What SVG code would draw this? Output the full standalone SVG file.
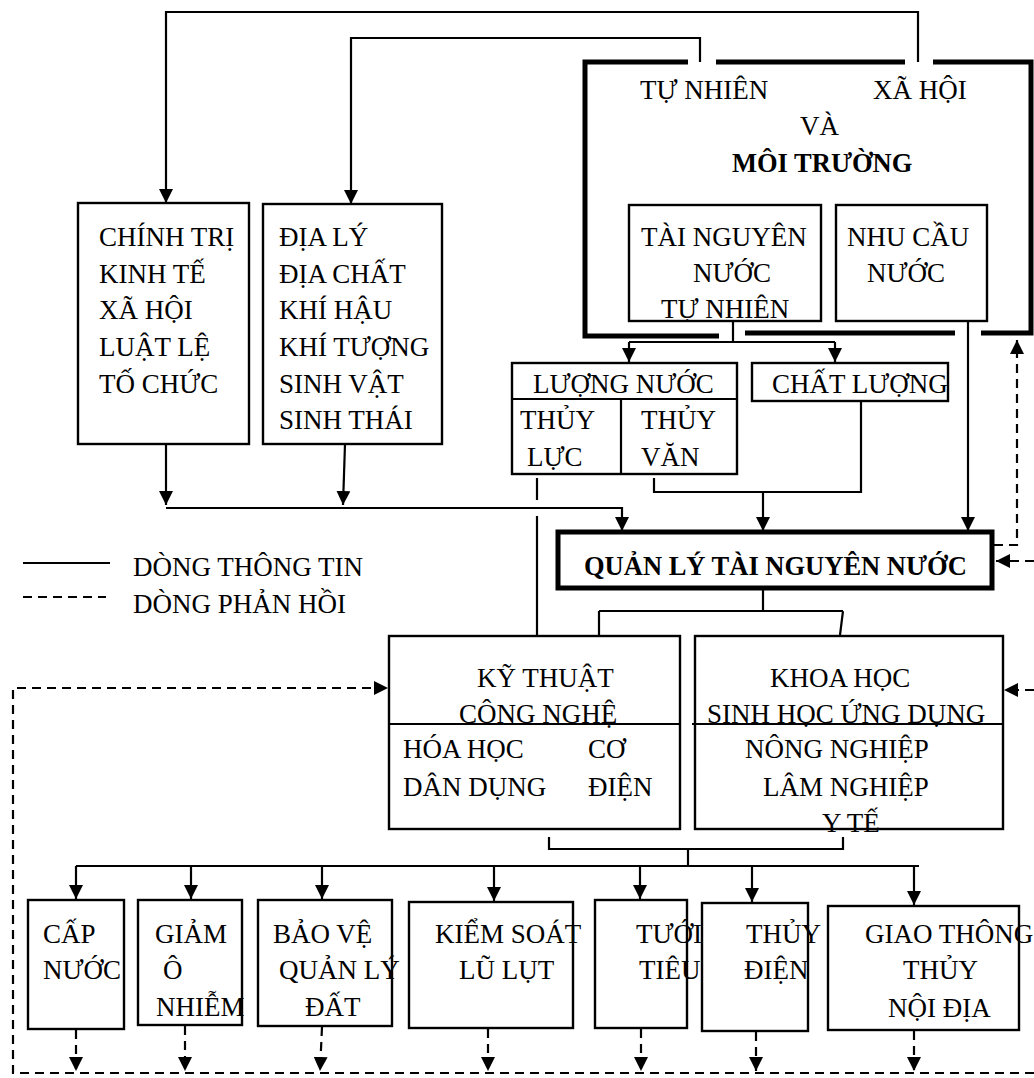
<svg xmlns="http://www.w3.org/2000/svg" width="1034" height="1078" viewBox="0 0 1034 1078">
<style>
text{font-family:"Liberation Serif","Times New Roman",serif;font-size:27px;fill:#000}
.b{font-weight:bold;font-size:26.5px}
.box{fill:#fff;stroke:#000;stroke-width:2.4}
.ln{fill:none;stroke:#000;stroke-width:2.2}
.thick{fill:none;stroke:#000;stroke-width:5}
.dash{fill:none;stroke:#000;stroke-width:2.2;stroke-dasharray:9 6}
</style>
<defs>
<marker id="ah" viewBox="0 0 10 10" refX="10" refY="5" markerWidth="14" markerHeight="14" markerUnits="userSpaceOnUse" orient="auto">
<path d="M0,0 L10,5 L0,10 z" fill="#000"/>
</marker>
</defs>
<rect width="1034" height="1078" fill="#fff"/>

<g id="moi-truong">
<path class="thick" d="M688,62 H585 V336 H719"/>
<path class="thick" d="M716,62 H905"/>
<path class="thick" d="M933,62 H1031 V333 H981"/>
<path class="thick" d="M745,333 H955"/>
<text x="640" y="99">TỰ NHIÊN</text>
<text x="873" y="99">XÃ HỘI</text>
<text x="800" y="135">VÀ</text>
<text class="b" x="732" y="172">MÔI TRƯỜNG</text>
</g>
<g id="tai-nguyen-nuoc-tu-nhien">
<rect class="box" x="629" y="205" width="192" height="116"/>
<text x="641" y="246">TÀI NGUYÊN</text>
<text x="693" y="282">NƯỚC</text>
<text x="661" y="318">TỰ NHIÊN</text>
</g>
<g id="nhu-cau-nuoc">
<rect class="box" x="836" y="205" width="151" height="116"/>
<text x="847" y="246">NHU CẦU</text>
<text x="867" y="282">NƯỚC</text>
</g>

<g id="chinh-tri">
<rect class="box" x="78" y="203" width="171" height="241"/>
<text x="99" y="246">CHÍNH TRỊ</text>
<text x="99" y="283">KINH TẾ</text>
<text x="99" y="319">XÃ HỘI</text>
<text x="99" y="356">LUẬT LỆ</text>
<text x="99" y="393">TỐ CHỨC</text>
</g>
<g id="dia-ly">
<rect class="box" x="263" y="204" width="179" height="240"/>
<text x="279" y="246">ĐỊA LÝ</text>
<text x="279" y="283">ĐỊA CHẤT</text>
<text x="279" y="319">KHÍ HẬU</text>
<text x="279" y="356">KHÍ TƯỢNG</text>
<text x="279" y="393">SINH VẬT</text>
<text x="279" y="429">SINH THÁI</text>
</g>

<g id="luong-nuoc">
<rect class="box" x="512" y="363" width="225" height="111"/>
<path class="ln" d="M512,399 H737 M621,399 V474"/>
<text x="533" y="393">LƯỢNG NƯỚC</text>
<text x="520" y="429">THỦY</text>
<text x="527" y="466">LỰC</text>
<text x="641" y="429">THỦY</text>
<text x="641" y="466">VĂN</text>
</g>
<g id="chat-luong">
<rect class="box" x="752" y="363" width="196" height="38"/>
<text x="772" y="393">CHẤT LƯỢNG</text>
</g>

<g id="quan-ly">
<rect x="558" y="532" width="434" height="56" fill="#fff" stroke="#000" stroke-width="5"/>
<text class="b" x="584" y="575">QUẢN LÝ TÀI NGUYÊN NƯỚC</text>
</g>

<g id="legend">
<path class="ln" d="M23,563 H110"/>
<text x="133" y="576">DÒNG THÔNG TIN</text>
<path class="dash" d="M23,597 H106"/>
<text x="133" y="613">DÒNG PHẢN HỒI</text>
</g>

<g id="ky-thuat">
<rect class="box" x="389" y="636" width="291" height="193"/>
<path class="ln" d="M389,724 H680"/>
<text x="477" y="687">KỸ THUẬT</text>
<text x="459" y="723">CÔNG NGHỆ</text>
<text x="403" y="758">HÓA HỌC</text>
<text x="588" y="758">CƠ</text>
<text x="403" y="796">DÂN DỤNG</text>
<text x="588" y="796">ĐIỆN</text>
</g>
<g id="khoa-hoc">
<rect class="box" x="695" y="636" width="308" height="193"/>
<path class="ln" d="M692,724 H1003"/>
<text x="770" y="687">KHOA HỌC</text>
<text x="707" y="723">SINH HỌC ỨNG DỤNG</text>
<text x="745" y="758">NÔNG NGHIỆP</text>
<text x="763" y="796">LÂM NGHIỆP</text>
<text x="822" y="832">Y TẾ</text>
</g>

<g id="cap-nuoc">
<rect class="box" x="28" y="900" width="96" height="129"/>
<text x="43" y="943">CẤP</text>
<text x="43" y="979">NƯỚC</text>
</g>
<g id="giam-o-nhiem">
<rect class="box" x="138" y="900" width="104" height="125"/>
<text x="155" y="943">GIẢM</text>
<text x="163" y="979">Ô</text>
<text x="156" y="1016">NHIỄM</text>
</g>
<g id="bao-ve">
<rect class="box" x="258" y="900" width="134" height="126"/>
<text x="273" y="943">BẢO VỆ</text>
<text x="279" y="979">QUẢN LÝ</text>
<text x="305" y="1016">ĐẤT</text>
</g>
<g id="kiem-soat">
<rect class="box" x="409" y="902" width="164" height="126"/>
<text x="435" y="943">KIỂM SOÁT</text>
<text x="459" y="979">LŨ LỤT</text>
</g>
<g id="tuoi-tieu">
<rect class="box" x="595" y="900" width="92" height="128"/>
<text x="636" y="943">TƯỚI</text>
<text x="639" y="979">TIÊU</text>
</g>
<g id="thuy-dien">
<rect class="box" x="702" y="903" width="106" height="128"/>
<text x="746" y="943">THỦY</text>
<text x="744" y="979">ĐIỆN</text>
</g>
<g id="giao-thong">
<rect class="box" x="828" y="906" width="191" height="124"/>
<text x="865" y="943">GIAO THÔNG</text>
<text x="903" y="979">THỦY</text>
<text x="888" y="1017">NỘI ĐỊA</text>
</g>

<g id="connectors">
<path class="ln" d="M918,62 V12 H166 V203" marker-end="url(#ah)"/>
<path class="ln" d="M700,62 V38 H351 V204" marker-end="url(#ah)"/>
<path class="ln" d="M166,444 V505" marker-end="url(#ah)"/>
<path class="ln" d="M345,444 L343,505" marker-end="url(#ah)"/>
<path class="ln" d="M166,508 H622 V531" marker-end="url(#ah)"/>
<path class="ln" d="M733,321 V342 M629,342 H835"/>
<path class="ln" d="M629,342 V362" marker-end="url(#ah)"/>
<path class="ln" d="M835,342 V362" marker-end="url(#ah)"/>
<path class="ln" d="M861,401 V492 H654 V478"/>
<path class="ln" d="M763,492 V531" marker-end="url(#ah)"/>
<path class="ln" d="M968,321 V531" marker-end="url(#ah)"/>
<path class="ln" d="M537,478 V500 M537,516 V635"/>
<path class="ln" d="M763,590 V611 M599,611 H843 M599,611 V635 M843,611 L840,635"/>
<path class="ln" d="M549,837 V849 H843 V837 M688,849 V866 M76,866 H919"/>
<path class="ln" d="M76,866 V899" marker-end="url(#ah)"/>
<path class="ln" d="M191,866 V899" marker-end="url(#ah)"/>
<path class="ln" d="M322,866 V899" marker-end="url(#ah)"/>
<path class="ln" d="M494,866 V901" marker-end="url(#ah)"/>
<path class="ln" d="M640,866 V899" marker-end="url(#ah)"/>
<path class="ln" d="M752,866 V902" marker-end="url(#ah)"/>
<path class="ln" d="M914,866 V905" marker-end="url(#ah)"/>
<path class="dash" d="M76,1030 V1071" marker-end="url(#ah)"/>
<path class="dash" d="M185,1026 V1071" marker-end="url(#ah)"/>
<path class="dash" d="M322,1027 L320,1071" marker-end="url(#ah)"/>
<path class="dash" d="M488,1029 V1071" marker-end="url(#ah)"/>
<path class="dash" d="M641,1029 V1071" marker-end="url(#ah)"/>
<path class="dash" d="M756,1032 V1071" marker-end="url(#ah)"/>
<path class="dash" d="M914,1031 V1071" marker-end="url(#ah)"/>
<path class="dash" d="M1034,1073 H13 V688 H388" marker-end="url(#ah)"/>
<path class="dash" d="M994,545 H1017 V340" marker-end="url(#ah)"/>
<path class="dash" d="M1034,561 H996" marker-end="url(#ah)"/>
<path class="dash" d="M1034,690 H1004" marker-end="url(#ah)"/>
</g>
</svg>
